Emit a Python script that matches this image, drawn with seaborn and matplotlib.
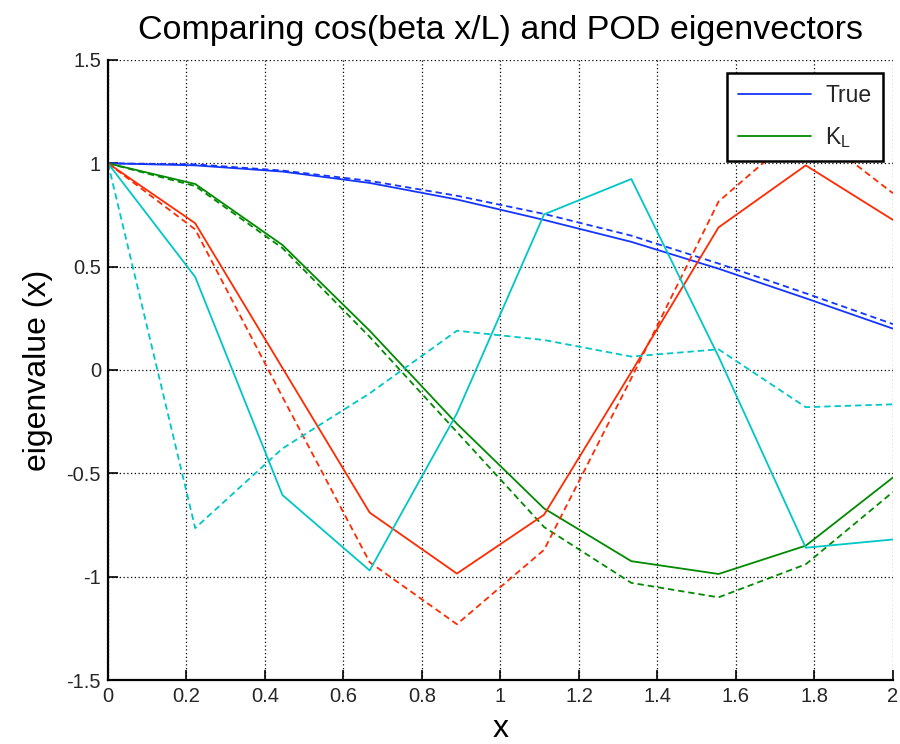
import numpy as np
import pandas as pd
import matplotlib
matplotlib.use("Agg")
import matplotlib.pyplot as plt
import seaborn as sns

# ---- data ----
x = [0.0, 0.2222, 0.4444, 0.6667, 0.8889, 1.1111, 1.3333, 1.5556, 1.7778, 2.0]
blue_solid = [1.0, 0.99, 0.96, 0.905, 0.825, 0.726, 0.62, 0.49, 0.347, 0.20]
blue_dash = [1.0, 0.995, 0.965, 0.915, 0.843, 0.755, 0.65, 0.515, 0.371, 0.222]
green_solid = [1.0, 0.90, 0.605, 0.19, -0.26, -0.67, -0.925, -0.987, -0.85, -0.52]
green_dash = [1.0, 0.89, 0.59, 0.16, -0.30, -0.76, -1.03, -1.10, -0.94, -0.59]
red_solid = [1.0, 0.71, 0.01, -0.69, -0.985, -0.70, -0.01, 0.69, 0.99, 0.726]
red_dash = [1.0, 0.68, -0.13, -0.93, -1.23, -0.87, -0.04, 0.815, 1.18, 0.855]
cyan_solid = [1.0, 0.45, -0.605, -0.97, -0.21, 0.753, 0.924, 0.065, -0.86, -0.82]
cyan_dash = [1.0, -0.765, -0.38, -0.113, 0.19, 0.145, 0.065, 0.10, -0.18, -0.166]

xticks = [0, 0.2, 0.4, 0.6, 0.8, 1, 1.2, 1.4, 1.6, 1.8, 2]
xticklabels = ["0", "0.2", "0.4", "0.6", "0.8", "1", "1.2", "1.4", "1.6", "1.8", "2"]
yticks = [-1.5, -1, -0.5, 0, 0.5, 1, 1.5]
yticklabels = ["-1.5", "-1", "-0.5", "0", "0.5", "1", "1.5"]
legend_labels = ["True", r"$\mathregular{K_L}$"]

title = "Comparing cos(beta x/L) and POD eigenvectors"
xlabel = "x"
ylabel = "eigenvalue (x)"

BLUE = "#1436ff"
GREEN = "#008a00"
RED = "#ff2a00"
CYAN = "#00c6c6"

sns.set_theme(style="white")
plt.rcParams["font.family"] = ["Liberation Sans", "DejaVu Sans"]
plt.rcParams["mathtext.default"] = "regular"

fig = plt.figure(figsize=(9, 7.44), dpi=100)
ax = fig.add_axes([0.12, 0.086, 0.8722, 0.8334])

series = [
    (blue_solid, BLUE, "-"),
    (blue_dash, BLUE, "--"),
    (green_solid, GREEN, "-"),
    (green_dash, GREEN, "--"),
    (red_solid, RED, "-"),
    (red_dash, RED, "--"),
    (cyan_solid, CYAN, "-"),
    (cyan_dash, CYAN, "--"),
]
lw = 1.3
for vals, col, ls in series:
    df = pd.DataFrame({"x": x, "y": vals})
    sns.lineplot(data=df, x="x", y="y", color=col, linewidth=lw, ax=ax,
                 legend=False, estimator=None, sort=False)
    ln = ax.lines[-1]
    if ls == "--":
        ln.set_dashes((3.5, 2.2))

ax.set_xlim(0, 2)
ax.set_ylim(-1.5, 1.5)
ax.set_xticks(xticks)
ax.set_xticklabels(xticklabels)
ax.set_yticks(yticks)
ax.set_yticklabels(yticklabels)

ax.grid(True, color="black", linestyle=(0, (1, 2.0)), linewidth=0.9)
ax.set_axisbelow(True)
for s in ["top", "right"]:
    ax.spines[s].set_visible(False)
for s in ["left", "bottom"]:
    ax.spines[s].set_color("black")
    ax.spines[s].set_linewidth(1.6)

ax.tick_params(axis="both", direction="in", length=7, width=1.2, color="black",
               labelsize=14.5, pad=5, left=True, bottom=True)

ax.set_title(title, fontsize=24.5, pad=15, color="black")
ax.set_xlabel(xlabel, fontsize=23, labelpad=6, color="black")
ax.set_ylabel(ylabel, fontsize=23, labelpad=10, color="black")

leg = ax.legend([ax.lines[0], ax.lines[2]], legend_labels, loc="upper right",
                bbox_to_anchor=(0.987, 0.979), fontsize=16.5, frameon=True,
                fancybox=False, borderpad=0.5, handlelength=3.2,
                labelspacing=0.75, handletextpad=0.6, borderaxespad=0.0)
leg.get_frame().set_edgecolor("black")
leg.get_frame().set_linewidth(1.8)
leg.get_frame().set_alpha(1)

fig.savefig("out.png", dpi=100, facecolor="white")
